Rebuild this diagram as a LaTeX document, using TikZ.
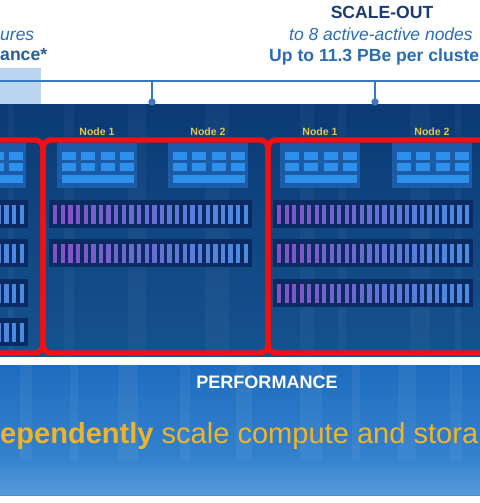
\documentclass[tikz,border=0pt]{standalone}
\usepackage{fontspec}
\setmainfont{Liberation Sans}
\definecolor{panelnavy}{HTML}{0B3A74}
\definecolor{panelmid}{HTML}{15528F}
\definecolor{floorblue}{HTML}{1E6CBE}
\definecolor{floorlight}{HTML}{3C8BD4}
\definecolor{groupred}{HTML}{F21010}
\definecolor{blockbg}{HTML}{1B5CA8}
\definecolor{blockkey}{HTML}{2E90EA}
\definecolor{shelfbg}{HTML}{0A2A62}
\definecolor{slotpurple}{HTML}{8452C4}
\definecolor{slotblue}{HTML}{4A8CE2}
\definecolor{navytext}{HTML}{1B3D6E}
\definecolor{bluetext}{HTML}{2A6DB5}
\definecolor{tickblue}{HTML}{3A78C0}
\definecolor{paleblue}{HTML}{BCD5EE}
\definecolor{goldtext}{HTML}{F0B429}
\definecolor{nodegold}{HTML}{E8C547}
\tikzset{
  groupbox/.style={draw=groupred, line width=4.6pt, rounded corners=7pt},
  tickline/.style={draw=tickblue, line width=1.2pt},
  tickdot/.style={circle, fill=tickblue, inner sep=0pt, minimum size=0.22cm},
  headbold/.style={inner sep=0pt, font=\fontsize{15}{15}\selectfont\bfseries},
  headital/.style={inner sep=0pt, font=\fontsize{14.9}{15}\selectfont\itshape},
  nodelabel/.style={inner sep=0pt, text=nodegold, font=\fontsize{9}{9}\selectfont\bfseries},
}
% compute block of one node, left edge at #1
\newcommand{\computeblock}[1]{%
  \fill[blockbg] (#1,143) rectangle ++(80,45);
  \foreach \c in {0,...,3} {
    \fill[blockkey] ({#1+5+19.3*\c},152) rectangle ++(14,7.5);
    \fill[blockkey] ({#1+5+19.3*\c},163) rectangle ++(14,8);
  }
  \fill[blockkey] ({#1+5},175) rectangle ++(72,8);
}
% drive shelf: left x, top y, width
\newcommand{\driveshelf}[3]{%
  \fill[shelfbg] (#1,#2) rectangle ++(#3,28);
  \pgfmathsetmacro\slotpitch{(#3-12.3)/25}
  \foreach \s in {0,...,25} {
    \pgfmathtruncatemacro\mix{4*\s}
    \fill[slotblue!\mix!slotpurple] ({#1+4+\slotpitch*\s},{#2+5}) rectangle ++(4.4,19);
  }
}
\begin{document}
\begin{tikzpicture}[x=0.03cm,y=-0.03cm]
\useasboundingbox (0,0) rectangle (480,503);
\clip (0,0) rectangle (480,503);
\fill[white] (0,0) rectangle (480,503);

% top strip
\fill[paleblue] (0,68) rectangle (41,104);
\node[headital, text=bluetext, anchor=base west] (features) at (0,40) {ures};
\node[headbold, text=bluetext!85!black, anchor=base west] (perf) at (0,60) {ance*};
\node[headbold, text=navytext, anchor=base] (scaleout) at (382,18.5) {SCALE-OUT};
\node[headital, text=bluetext, anchor=base west] (activenodes) at (289,40) {to 8 active-active nodes};
\node[headbold, text=bluetext, anchor=base west] (capacity) at (269,61) {Up to 11.3 PBe per cluste};

% dark panel
\shade[top color=panelnavy, bottom color=panelmid] (0,104) rectangle (480,356);
\foreach \sx/\sw in {8/6, 64/10, 128/18, 205/24, 300/14, 338/8, 410/20, 455/6}
  \fill[white, opacity=0.035] (\sx,104) rectangle ++(\sw,252);

% bracket line with ticks
\coordinate (lineW) at (0,81);
\coordinate (lineE) at (480,81);
\draw[tickline] (lineW) -- (lineE);
\coordinate (tickA) at (152,81);
\coordinate (tickB) at (375,81);
\node[tickdot] (dotA) at (152,102) {};
\node[tickdot] (dotB) at (375,102) {};
\draw[tickline] (tickA) -- (dotA.center);
\draw[tickline] (tickB) -- (dotB.center);

% left group (cut by the edge)
\computeblock{-165}
\computeblock{-54}
\foreach \k in {0,...,3} {
  \driveshelf{-177}{200+39.3*\k}{205}
}

% middle group
\node[nodelabel, anchor=base] (midone) at (97,135) {Node 1};
\node[nodelabel, anchor=base] (midtwo) at (208,135) {Node 2};
\computeblock{57}
\computeblock{168}
\foreach \k in {0,1} {
  \driveshelf{49}{200+39.3*\k}{203}
}

% right group
\node[nodelabel, anchor=base] (rightone) at (320,135) {Node 1};
\node[nodelabel, anchor=base] (righttwo) at (432,135) {Node 2};
\computeblock{280}
\computeblock{392}
\foreach \k in {0,1,2} {
  \driveshelf{273}{200+39.3*\k}{200}
}

% red group outlines
\draw[groupbox] (-200,140) rectangle (43,353);
\draw[groupbox] (43,140) rectangle (268,353);
\draw[groupbox] (268,140) rectangle (700,353);

% bottom floor
\shade[top color=floorblue, bottom color=floorlight] (0,365) rectangle (480,495);
\foreach \sx/\sw in {20/12, 70/8, 118/20, 180/10, 236/16, 300/22, 352/8, 398/18, 450/12}
  \fill[white, opacity=0.05] (\sx,365) rectangle ++(\sw,95);
\foreach \b in {0,...,7}
  \fill[white, opacity=0.02*\b] (0,{455+5*\b}) rectangle (480,{460+5*\b});
\node[headbold, text=white, font=\fontsize{15.4}{15}\selectfont\bfseries, anchor=base] (performance) at (267,388) {PERFORMANCE};
\node[inner sep=0pt, text=goldtext, anchor=base west, font=\fontsize{24.8}{25}\selectfont] (slogan) at (0,443) {\textbf{ependently} scale compute and stora};
\end{tikzpicture}
\end{document}
